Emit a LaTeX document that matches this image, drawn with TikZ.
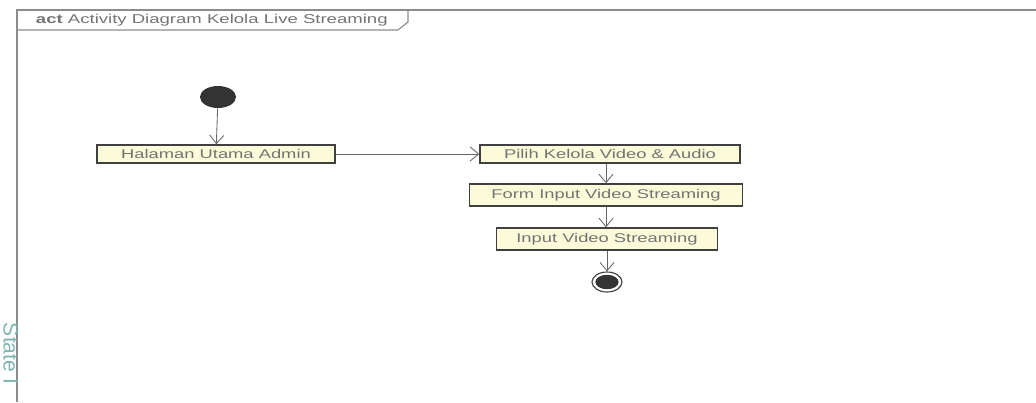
\documentclass[tikz,border=0pt]{standalone}
\usepackage{fontspec}
\setmainfont{Liberation Sans}
\newfontfamily\umlfont[FakeStretch=1.45]{Liberation Sans}
\usepackage{tikz}
\usetikzlibrary{arrows.meta, shapes.geometric}
\definecolor{actfill}{HTML}{FBFAD9}
\definecolor{marktext}{HTML}{7FB5B0}
\tikzstyle{action}=[rectangle, draw=black!75, line width=1pt, fill=actfill, text=black!55, font=\umlfont\fontsize{9}{11}\selectfont, inner sep=0pt]
\tikzstyle{flow}=[draw=black!60, line width=0.6pt, -{Straight Barb[length=6pt,width=10pt]}]
\tikzstyle{frameline}=[draw=black!45, line width=0.8pt]

\begin{document}
\begin{tikzpicture}[x=0.025cm, y=-0.025cm]
\clip (0,0) rectangle (1036,402);
\useasboundingbox (0,0) rectangle (1036,402);
% frame with name tab
\draw[frameline] (17,402)--(17,10)--(1036,10);
\draw[frameline] (17,30)--(398,30)--(408,22)--(408,10);
\node[anchor=west, text=black!55, font=\umlfont\fontsize{9.1}{11}\selectfont] (title) at (31,20) {\textbf{act} Activity Diagram Kelola Live Streaming};

\node[ellipse, fill=black!80, minimum width=0.9cm, minimum height=0.55cm, inner sep=0pt] (start) at (218,97) {};
\node[action, minimum width=5.95cm, minimum height=0.45cm] (halaman) at (216,154) {Halaman Utama Admin};
\node[action, minimum width=6.5cm, minimum height=0.45cm] (pilih) at (610,154) {Pilih Kelola Video \& Audio};
\node[action, minimum width=6.825cm, minimum height=0.55cm] (form) at (606,195) {Form Input Video Streaming};
\node[action, minimum width=5.525cm, minimum height=0.55cm] (input) at (607,239) {Input Video Streaming};
\node[ellipse, draw=black!75, line width=0.8pt, fill=white, minimum width=0.75cm, minimum height=0.5cm, inner sep=0pt] (stop) at (607,282) {};
\node[ellipse, fill=black!80, minimum width=0.58cm, minimum height=0.36cm, inner sep=0pt] (stopdot) at (607,282) {};

\draw[flow] (start)--(halaman);
\draw[flow] (halaman)--(pilih);
\draw[flow] (pilih.south -| form.north)--(form);
\draw[flow] (form)--(input.north -| form.south);
\draw[flow] (input)--(stop);

\node[rotate=-90, anchor=west, text=marktext, font=\fontsize{15}{18}\selectfont] (mark) at (11,318) {State I};
\end{tikzpicture}
\end{document}
